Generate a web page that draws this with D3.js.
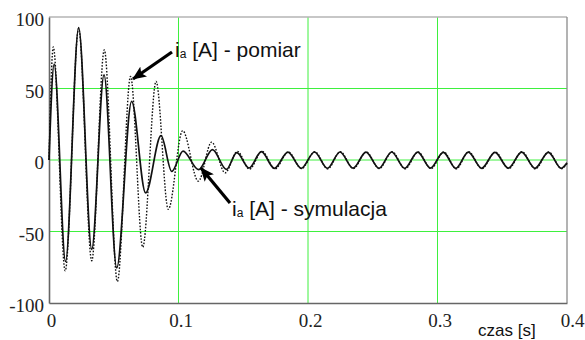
<!DOCTYPE html>
<html>
<head>
<meta charset="utf-8">
<script src="https://cdn.jsdelivr.net/npm/d3@7"></script>
<style>
  body { margin: 0; background: #fff; }
  svg { display: block; }
</style>
</head>
<body>
<svg id="chart" width="585" height="340"></svg>
<script>
// extrema (time in s, current in A)
const simT = [0, 0.004, 0.0128, 0.0229, 0.033, 0.0425, 0.0523, 0.0638, 0.0746, 0.0865,
  0.0948, 0.1035, 0.1155, 0.1262, 0.137, 0.145, 0.1545, 0.164, 0.174, 0.1845,
  0.1948, 0.205, 0.215, 0.2247, 0.2348, 0.2448, 0.2548, 0.2646, 0.2747, 0.2847,
  0.2946, 0.3045, 0.3142, 0.3238, 0.3341, 0.3444, 0.3547, 0.365, 0.3753, 0.3856,
  0.3956, 0.4];
const simV = [0, 67, -71, 92.5, -62.5, 59.5, -75.5, 41, -23, 17,
  -8, 6.2, -6.8, 7.3, -6.6, 5.2, -5.6, 5.8, -5.8, 5.5,
  -5.8, 5.6, -5.8, 5.6, -5.7, 5.5, -5.8, 5.6, -5.8, 5.5,
  -5.7, 5.4, -5.8, 5.5, -5.8, 5.4, -5.7, 5.5, -5.8, 5.4,
  -5.8, -2];

const meaT = [0, 0.0033, 0.0125, 0.0229, 0.033, 0.0427, 0.0528, 0.063, 0.0724, 0.0827,
  0.0921, 0.1032, 0.1153, 0.1256, 0.136, 0.1455, 0.1548, 0.1645, 0.1745, 0.1848,
  0.195, 0.2053, 0.2152, 0.225, 0.235, 0.245, 0.255, 0.265, 0.275, 0.285,
  0.295, 0.3048, 0.3145, 0.324, 0.3343, 0.3446, 0.355, 0.3652, 0.3755, 0.3858,
  0.3958, 0.4];
const meaV = [0, 79, -77.5, 92, -70.5, 77, -85, 58.5, -61, 55,
  -34.5, 20.5, -14.8, 12.5, -9, 6, -6.4, 6, -6.2, 5.6,
  -6, 5.8, -6.2, 5.8, -6, 5.6, -6, 5.8, -6.2, 5.6,
  -6, 5.6, -6.2, 5.8, -6, 5.6, -6, 5.8, -6.2, 5.6,
  -6, -2.5];

const xTicks = [0, 0.1, 0.2, 0.3, 0.4];
const yTicks = [-100, -50, 0, 50, 100];
const xGrid = [0.1, 0.2, 0.3];
const yGrid = [-50, 0, 50];

const svg = d3.select('#chart');
const plot = { left: 49, right: 567, top: 17, bottom: 303 };

const x = d3.scaleLinear().domain([0, 0.4]).range([plot.left, plot.right]);
const y = d3.scaleLinear().domain([-100, 100]).range([plot.bottom, plot.top]);

// grid
svg.append('g').selectAll('line').data(xGrid).enter().append('line')
  .attr('x1', d => x(d)).attr('x2', d => x(d))
  .attr('y1', plot.top).attr('y2', plot.bottom)
  .attr('stroke', '#3ef03e').attr('stroke-width', 1);
svg.append('g').selectAll('line').data(yGrid).enter().append('line')
  .attr('x1', plot.left).attr('x2', plot.right)
  .attr('y1', d => y(d)).attr('y2', d => y(d))
  .attr('stroke', '#3ef03e').attr('stroke-width', 1);

// frame
svg.append('line').attr('x1', plot.left).attr('x2', plot.right).attr('y1', plot.top).attr('y2', plot.top)
  .attr('stroke', '#b4b4b4').attr('stroke-width', 1.3);
svg.append('line').attr('x1', plot.right).attr('x2', plot.right).attr('y1', plot.top).attr('y2', plot.bottom)
  .attr('stroke', '#8a8a8a').attr('stroke-width', 1.3);

// axes
const yAxis = svg.append('g').attr('transform', `translate(${plot.left},0)`)
  .call(d3.axisLeft(y).tickValues(yTicks).tickSize(0).tickPadding(5).tickFormat(d => String(d)));
const xAxis = svg.append('g').attr('transform', `translate(0,${plot.bottom})`)
  .call(d3.axisBottom(x).tickValues(xTicks).tickSize(0).tickPadding(11).tickFormat(d => d === 0 ? '0' : d3.format('.1f')(d)));

[xAxis, yAxis].forEach(a => {
  a.select('.domain').attr('stroke', '#666').attr('stroke-width', 1.6);
  a.selectAll('text')
    .attr('fill', '#222')
    .style('font-family', '"Liberation Serif", "Times New Roman", serif')
    .style('font-size', '19px');
});
yAxis.selectAll('text').attr('dy', '0.45em');
xAxis.selectAll('text').attr('dx', d => d === 0.4 ? 5 : 2);

// curves
const line = d3.line()
  .x(d => x(d[0]))
  .y(d => y(d[1]))
  .curve(d3.curveMonotoneX);

svg.append('path')
  .datum(meaT.map((t, i) => [t, meaV[i]]))
  .attr('d', line)
  .attr('fill', 'none')
  .attr('stroke', '#111')
  .attr('stroke-width', 1.4)
  .attr('stroke-dasharray', '1.6,1.6');

svg.append('path')
  .datum(simT.map((t, i) => [t, simV[i]]))
  .attr('d', line)
  .attr('fill', 'none')
  .attr('stroke', '#111')
  .attr('stroke-width', 1.7);

// x title
svg.append('text')
  .attr('x', 478).attr('y', 336)
  .style('font-family', '"Liberation Sans", Arial, sans-serif')
  .style('font-size', '17px')
  .attr('fill', '#111')
  .text('czas [s]');

// annotations
svg.append('defs').append('marker')
  .attr('id', 'head')
  .attr('viewBox', '0 0 14 12')
  .attr('refX', 13).attr('refY', 6)
  .attr('markerWidth', 14).attr('markerHeight', 12)
  .attr('markerUnits', 'userSpaceOnUse')
  .attr('orient', 'auto')
  .append('path').attr('d', 'M0,0 L14,6 L0,12 L3,6 Z').attr('fill', '#000');

function label(xp, yp, txt) {
  const t = svg.append('text')
    .attr('x', xp).attr('y', yp)
    .style('font-family', '"Liberation Sans", Arial, sans-serif')
    .attr('fill', '#111');
  t.append('tspan').style('font-size', '21px').text('i');
  t.append('tspan').style('font-size', '12px').attr('dy', 1).text('a');
  t.append('tspan').style('font-size', '21px').attr('dy', -1).text(' ' + txt);
}
label(175, 57, '[A] - pomiar');
label(232, 216, '[A] - symulacja');

svg.append('line').attr('x1', 172).attr('y1', 52).attr('x2', 133).attr('y2', 79)
  .attr('stroke', '#000').attr('stroke-width', 3.2).attr('marker-end', 'url(#head)');
svg.append('line').attr('x1', 230).attr('y1', 203).attr('x2', 201).attr('y2', 168)
  .attr('stroke', '#000').attr('stroke-width', 3.2).attr('marker-end', 'url(#head)');
</script>
</body>
</html>
